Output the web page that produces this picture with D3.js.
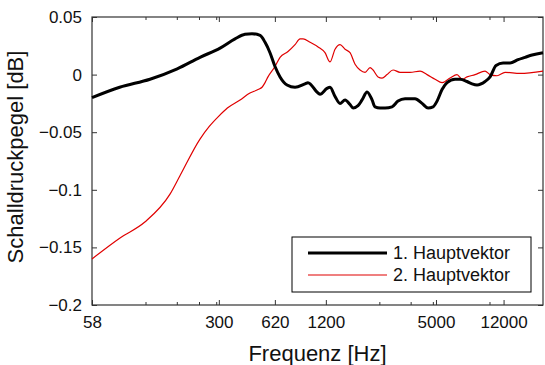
<!DOCTYPE html>
<html>
<head>
<meta charset="utf-8">
<script src="https://cdn.jsdelivr.net/npm/d3@7"></script>
<style>
  body { margin: 0; background: #fff; }
  svg { display: block; font-family: "Liberation Sans", Arial, sans-serif; }
</style>
</head>
<body>
<script>
// data
var freqs1 = [58, 83, 123, 175, 235, 305, 370, 421, 461, 512, 546, 582, 621, 663, 726, 805, 916, 952, 1085, 1113, 1218, 1267, 1352, 1442, 1539, 1642, 1707, 1821, 1918, 2047, 2184, 2270, 2422, 2584, 2829, 3058, 3348, 3666, 3811, 4174, 4512, 4813, 5070, 5408, 5769, 6401, 6829, 7476, 7976, 8510, 9442, 10074, 10887, 11925, 13050, 14478, 15857, 17363, 20000];
var hauptvektor1 = [-0.020, -0.011, -0.004, 0.005, 0.015, 0.023, 0.031, 0.035, 0.0355, 0.034, 0.028, 0.019, 0.007, -0.002, -0.009, -0.011, -0.008, -0.007, -0.016, -0.017, -0.012, -0.011, -0.019, -0.025, -0.022, -0.026, -0.029, -0.027, -0.022, -0.015, -0.022, -0.028, -0.029, -0.029, -0.028, -0.023, -0.021, -0.021, -0.021, -0.025, -0.029, -0.028, -0.023, -0.013, -0.007, -0.004, -0.004, -0.006, -0.008, -0.009, -0.006, -0.002, 0.008, 0.010, 0.010, 0.013, 0.015, 0.017, 0.019];

var freqs2 = [58, 83, 115, 159, 181, 235, 265, 300, 335, 395, 449, 499, 525, 546, 567, 621, 663, 735, 805, 859, 893, 978, 1085, 1187, 1267, 1352, 1442, 1539, 1642, 1752, 1869, 1995, 2128, 2212, 2360, 2485, 2652, 2866, 3138, 3573, 4068, 4454, 4940, 5408, 5998, 6566, 7007, 7476, 8293, 9442, 10074, 11030, 12232, 14858, 20000];
var hauptvektor2 = [-0.160, -0.142, -0.128, -0.104, -0.088, -0.056, -0.045, -0.036, -0.029, -0.022, -0.016, -0.013, -0.011, -0.007, -0.002, 0.007, 0.015, 0.020, 0.026, 0.031, 0.031, 0.028, 0.024, 0.019, 0.011, 0.022, 0.026, 0.022, 0.019, 0.009, 0.004, 0.002, 0.006, 0.004, -0.002, -0.003, 0.000, 0.004, 0.002, 0.002, 0.003, 0.000, -0.004, -0.007, -0.003, 0.000, -0.004, -0.002, 0.000, 0.003, 0.000, -0.001, 0.002, 0.001, 0.003];

var xTicks = [58, 300, 620, 1200, 5000, 12000];
var xMinorTicks = [116, 174, 232, 290, 2400, 3600, 4800, 10000];
var yTicks = [-0.2, -0.15, -0.1, -0.05, 0, 0.05];
var seriesNames = ["1. Hauptvektor", "2. Hauptvektor"];

var width = 545, height = 365;
var margin = { left: 92, right: 2, top: 17, bottom: 60 };

var svg = d3.select("body")
    .append("svg")
    .attr("width", width)
    .attr("height", height);

// scales
var x = d3.scaleLog()
    .domain([58, 20000])
    .range([margin.left, width - margin.right]);
var y = d3.scaleLinear()
    .domain([-0.2, 0.05])
    .range([height - margin.bottom, margin.top]);

var x0 = margin.left, x1 = width - margin.right;
var y0 = height - margin.bottom, y1 = margin.top;
var axisColor = "#333";

// axes (ticks point inwards, like matlab)
var fmtY = function (d) { return d === 0 ? "0" : d3.format("")(+d.toFixed(2)); };

svg.append("g")
    .attr("transform", "translate(0," + y0 + ")")
    .call(d3.axisBottom(x).tickValues(xTicks).tickFormat(d3.format("d")).tickSizeInner(-5).tickSizeOuter(0).tickPadding(11));
svg.append("g")
    .attr("transform", "translate(0," + y1 + ")")
    .call(d3.axisTop(x).tickValues(xTicks).tickFormat("").tickSizeInner(-5).tickSizeOuter(0));
svg.append("g")
    .attr("transform", "translate(0," + y0 + ")")
    .call(d3.axisBottom(x).tickValues(xMinorTicks).tickFormat("").tickSizeInner(-3).tickSizeOuter(0));
svg.append("g")
    .attr("transform", "translate(0," + y1 + ")")
    .call(d3.axisTop(x).tickValues(xMinorTicks).tickFormat("").tickSizeInner(-3).tickSizeOuter(0));
svg.append("g")
    .attr("transform", "translate(" + x0 + ",0)")
    .call(d3.axisLeft(y).tickValues(yTicks).tickFormat(fmtY).tickSizeInner(-5).tickSizeOuter(0).tickPadding(10));
svg.append("g")
    .attr("transform", "translate(" + x1 + ",0)")
    .call(d3.axisRight(y).tickValues(yTicks).tickFormat("").tickSizeInner(-5).tickSizeOuter(0));

svg.selectAll(".domain").remove();
svg.selectAll(".tick line").attr("stroke", axisColor);
svg.selectAll(".tick text")
    .attr("fill", "#111")
    .attr("font-size", "17px")
    .attr("font-family", "Liberation Sans, Arial, sans-serif");

// box
svg.append("rect")
    .attr("x", x0)
    .attr("y", y1)
    .attr("width", x1 - x0)
    .attr("height", y0 - y1)
    .attr("fill", "none")
    .attr("stroke", axisColor)
    .attr("stroke-width", 1.2);

// curves
var line = d3.line()
    .x(function (d) { return x(d[0]); })
    .y(function (d) { return y(d[1]); })
    .curve(d3.curveMonotoneX);

svg.append("path")
    .datum(d3.zip(freqs2, hauptvektor2))
    .attr("d", line)
    .attr("fill", "none")
    .attr("stroke", "#e00000")
    .attr("stroke-width", 1.2);

svg.append("path")
    .datum(d3.zip(freqs1, hauptvektor1))
    .attr("d", line)
    .attr("fill", "none")
    .attr("stroke", "#000")
    .attr("stroke-width", 3);

// axis titles
svg.append("text")
    .text("Frequenz [Hz]")
    .attr("x", (x0 + x1) / 2)
    .attr("y", 361)
    .attr("text-anchor", "middle")
    .attr("font-size", "22px")
    .attr("fill", "#111");
svg.append("text")
    .text("Schalldruckpegel [dB]")
    .attr("transform", "translate(23," + 157 + ") rotate(-90)")
    .attr("text-anchor", "middle")
    .attr("font-size", "22px")
    .attr("fill", "#111");

// legend
var legend = svg.append("g").attr("transform", "translate(292,237)");
legend.append("rect")
    .attr("width", 239)
    .attr("height", 55)
    .attr("fill", "#fff")
    .attr("stroke", "#000")
    .attr("stroke-width", 1);
var legendColors = ["#000", "#e00000"];
var legendWidths = [3, 1.2];
seriesNames.forEach(function (name, i) {
    legend.append("line")
        .attr("x1", 16).attr("x2", 95)
        .attr("y1", 16 + i * 22).attr("y2", 16 + i * 22)
        .attr("stroke", legendColors[i])
        .attr("stroke-width", legendWidths[i]);
    legend.append("text")
        .text(name)
        .attr("x", 101)
        .attr("y", 22 + i * 22)
        .attr("font-size", "18px")
        .attr("fill", "#111");
});
</script>
</body>
</html>
